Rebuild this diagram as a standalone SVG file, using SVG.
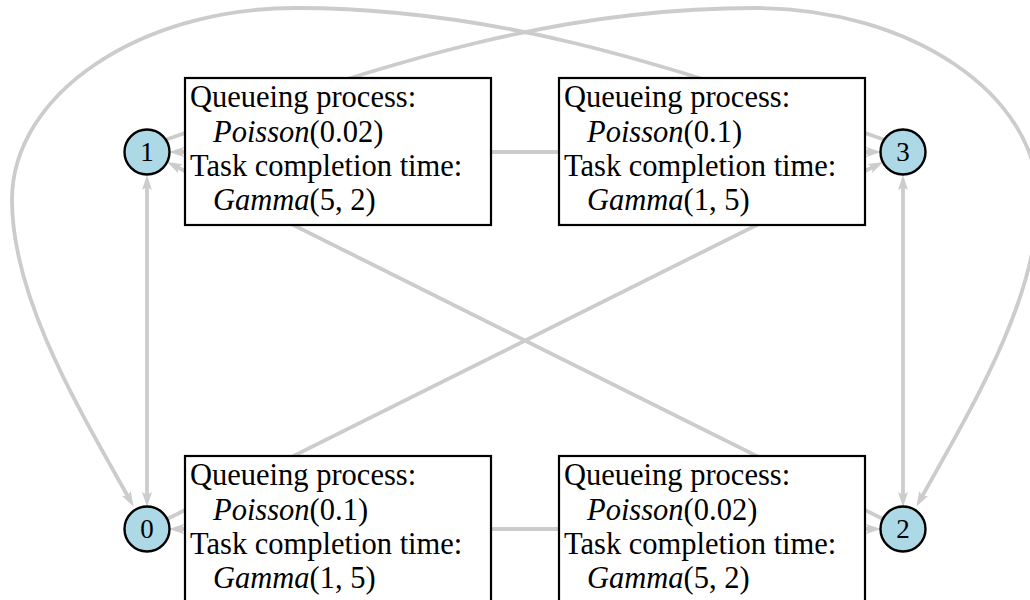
<svg xmlns="http://www.w3.org/2000/svg" width="1030" height="600" viewBox="0 0 1030 600">
<defs>
<style>
.edge{fill:none;stroke:#cccccc;stroke-width:3.8}
.box{fill:#ffffff;stroke:#000000;stroke-width:2.2}
.node{fill:#add8e6;stroke:#000000;stroke-width:2.4}
.t{font-size:30.5px;fill:#000000}
.it{font-style:italic}
.n{font-size:27px;fill:#000000;text-anchor:middle}
</style>
<marker id="arr" viewBox="0 0 15 11" refX="8" refY="5.5" markerWidth="15" markerHeight="11" markerUnits="userSpaceOnUse" orient="auto-start-reverse">
<path d="M0,0.5 L15,5.5 L0,10.5 L3,5.5 z" fill="#cccccc"/>
</marker>
</defs>
<rect width="1030" height="600" fill="#ffffff"/>
<g id="connectors">
<path class="edge" d="M147,182 L147,500" marker-start="url(#arr)" marker-end="url(#arr)"/>
<path class="edge" d="M903,182 L903,500" marker-start="url(#arr)" marker-end="url(#arr)"/>
<path class="edge" d="M176,152 L874,152" marker-start="url(#arr)" marker-end="url(#arr)"/>
<path class="edge" d="M176,529 L874,529" marker-start="url(#arr)" marker-end="url(#arr)"/>
<path class="edge" d="M883,519 L173.3,165.2" marker-end="url(#arr)"/>
<path class="edge" d="M166.7,519.2 L877,165" marker-end="url(#arr)"/>
<path class="edge" d="M165,140 C400,58 560,8 755,8 C910,8 1038,94 1038,200 C1038,300 968,414 919.8,500.5" marker-end="url(#arr)"/>
<path class="edge" d="M885,140 C650,58 490,8 295,8 C140,8 12,94 12,200 C12,300 82,414 130.2,500.5" marker-end="url(#arr)"/>
</g>
<g font-family="'Liberation Serif', 'Times New Roman', serif">
<g id="box-top-left">
<rect class="box" x="185" y="78" width="306" height="147"/>
<text class="t" x="190" y="107">Queueing process:</text>
<text class="t" x="213" y="142"><tspan class="it">Poisson</tspan>(0.02)</text>
<text class="t" x="190" y="176">Task completion time:</text>
<text class="t" x="213" y="210"><tspan class="it">Gamma</tspan>(5, 2)</text>
</g>
<g id="box-top-right">
<rect class="box" x="559" y="78" width="306" height="147"/>
<text class="t" x="564" y="107">Queueing process:</text>
<text class="t" x="587" y="142"><tspan class="it">Poisson</tspan>(0.1)</text>
<text class="t" x="564" y="176">Task completion time:</text>
<text class="t" x="587" y="210"><tspan class="it">Gamma</tspan>(1, 5)</text>
</g>
<g id="box-bottom-left">
<rect class="box" x="185" y="456" width="306" height="147"/>
<text class="t" x="190" y="485">Queueing process:</text>
<text class="t" x="213" y="520"><tspan class="it">Poisson</tspan>(0.1)</text>
<text class="t" x="190" y="554">Task completion time:</text>
<text class="t" x="213" y="588"><tspan class="it">Gamma</tspan>(1, 5)</text>
</g>
<g id="box-bottom-right">
<rect class="box" x="559" y="456" width="306" height="147"/>
<text class="t" x="564" y="485">Queueing process:</text>
<text class="t" x="587" y="520"><tspan class="it">Poisson</tspan>(0.02)</text>
<text class="t" x="564" y="554">Task completion time:</text>
<text class="t" x="587" y="588"><tspan class="it">Gamma</tspan>(5, 2)</text>
</g>
<g id="node-1">
<circle class="node" cx="147" cy="152" r="22.5"/>
<text class="n" x="147" y="161">1</text>
</g>
<g id="node-3">
<circle class="node" cx="903" cy="152" r="22.5"/>
<text class="n" x="903" y="161">3</text>
</g>
<g id="node-0">
<circle class="node" cx="147" cy="529" r="22.5"/>
<text class="n" x="147" y="538">0</text>
</g>
<g id="node-2">
<circle class="node" cx="903" cy="529" r="22.5"/>
<text class="n" x="903" y="538">2</text>
</g>
</g>
</svg>
